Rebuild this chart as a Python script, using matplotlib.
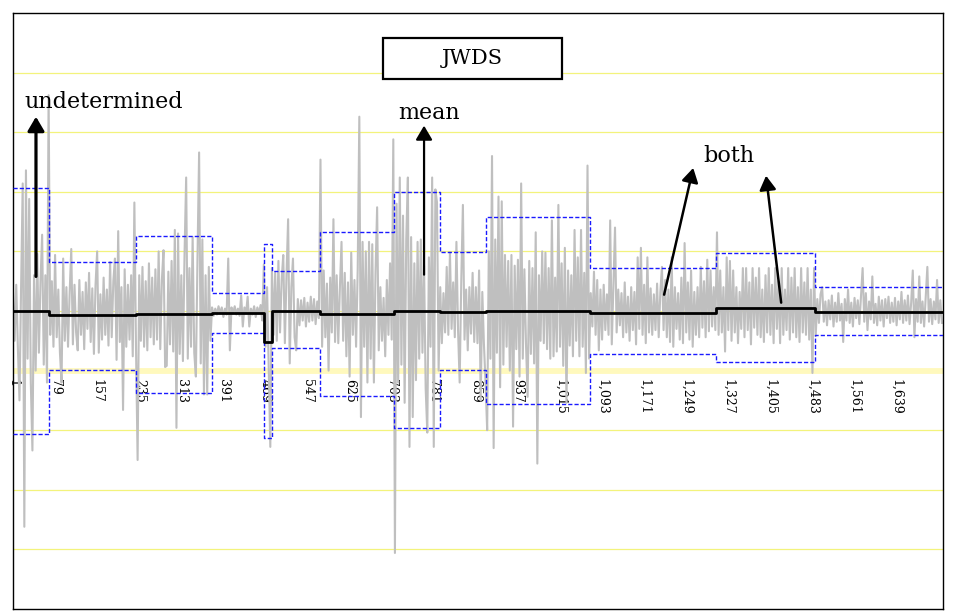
import matplotlib
matplotlib.use("Agg")
import matplotlib.pyplot as plt
from matplotlib.patches import Rectangle
import numpy as np

plt.rcParams['font.family'] = ['DejaVu Serif']

# ---- data (values in percent), one value every 3rd observation ----
obs_step = 3
returns = [
    # segment 1
    1.5, -2.5, 2.2, -3.0, -7.5, 2.0, 10.7, -18.1, 11.8, -4.0, 9.4, -6.0, -11.7, 3.0, -5.0,
    4.8, -3.5, 2.5, 6.4, -4.5, 3.0, -6.0, 18.1,
    # segment 2
    -2.0, 2.5, -3.0, 4.7, -2.2, 1.8, -3.5, -6.0, 4.4, -2.5, 2.0, -3.0, 1.5, 5.2, -2.8, 2.2,
    -1.8, -3.3, 2.6, -2.0, 1.6, -3.2, 2.4, -1.5, 3.2, -2.6, 1.9, -3.6, 2.2, 5.0, -3.5, 1.4,
    -2.4, 2.8, -2.0, 1.8, -2.9, 4.1, -2.2, 2.5, 4.4, -4.1, 6.7, -2.6, 2.0, -8.3, 3.5, -3.0,
    2.2, -2.4, 3.0, -3.8, 9.1,
    # segment 3
    -3.0, -12.5, 3.0, -2.5, 3.7, -3.0, 2.5, -3.3, 4.0, -2.2, 2.8, -2.8, 3.5, -2.4, 5.0, -3.2,
    2.6, 5.1, -4.7, -4.6, 3.3, -2.8, 4.2, -3.4, 6.8, -9.8, 6.5, -3.6, 3.0, -4.2, 4.8, 11.2,
    -4.0, 3.6, -3.0, 6.2, -3.5, -5.5, 4.5, 13.3, -4.4, 6.0, -7.0, 3.0, -7.0, 3.7, -2.5,
    # segment 4
    0.3, -0.4, 0.2, -0.3, 0.4, -0.2, 0.3, -0.5, 0.2, -0.3, 4.4, -3.3, 0.3, -0.2, 0.4, -0.3,
    0.2, -0.4, 1.3, -1.3, 0.3, -0.2, 1.2, -1.3, 0.2, -0.3, 0.4, -0.5, 0.3, -0.2, 0.5, -0.8,
    # segment 5
    3.9, -3.0, 2.0, -4.5, -11.4,
    # segment 6
    3.6, -2.0, 3.2, -2.5, 4.2, -1.8, 2.6, 4.7, -2.7, 3.0, 7.7, -4.4, 2.0, 4.4, -2.2, -3.3,
    1.0, -1.2, 0.9, -0.8, 1.1, -1.3, 0.7, -0.9, 1.2, -0.8, 1.0, -1.1, 0.8, -0.6,
    # segment 7
    12.7, -3.0, 3.4, -2.2, 2.3, -5.0, 2.8, -1.8, 7.7, -2.6, 3.0, -2.7, 2.0, 5.8, -2.5, 3.2,
    -3.8, 2.4, -5.5, 4.9, -2.0, 2.6, -3.0, 3.5, 16.3, -8.9, 5.8, -3.0, 5.0, -6.0, 5.8, -4.0,
    5.6, -6.0, 3.2, 8.7, -3.3, 2.0, -2.5, 1.1, -3.8, 2.6, -2.0, 4.0, -2.4, 14.4,
    # segment 8
    -20.3, 9.0, -6.0, 11.2, -4.5, 8.0, -7.7, 6.0, 11.2, -11.4, 6.2, -8.9, 4.0, -5.8, 5.8, -4.0,
    6.0, -3.5, 3.8, -6.5, -10.2, 4.5, -3.0, 11.2, -11.4, 10.2, 9.1, -5.0,
    # segment 9
    2.0, -2.7, 1.5, -1.8, 3.7, -2.0, 4.9, -1.5, 2.4, -2.2, 5.8, -1.6, -6.0, 2.6, 8.9, -2.4,
    1.8, -3.3, 2.0, -1.9, 3.2, -2.6, 2.0, -2.7, 3.4, -7.5, 1.6, -2.8, -6.0,
    # segment 10
    -10.0, 5.0, -4.0, 13.0, -11.5, 6.0, -3.5, 9.6, -6.4, 9.2, -4.5, 4.7, -3.0, 4.2, -5.0, 4.7,
    -9.7, 3.8, -3.2, 4.3, -5.5, 10.7, -4.0, 3.5, -2.8, -7.2, 4.2, -3.6, 3.6, -4.4, 6.6, -12.8,
    3.0, -2.5, 5.0, -2.7, 4.9, -3.2, 3.6, -4.0, 7.6, -3.8, 2.8, -3.4, 8.9, -3.0, 4.0, -4.6,
    5.3, -7.7, 3.4, -2.9, 3.0, -3.8, 6.8, -2.5, 4.5, -3.8, 6.8, -3.0, 3.2, -5.2, 12.2, -4.0,
    # segment 11
    1.5, -1.3, 3.3, -2.0, 2.6, -3.3, 1.8, -2.4, 2.2, -1.6, 1.4, -2.0, 7.6, -2.8, 2.0, 7.0,
    -1.8, 1.8, -1.2, 1.5, -2.2, 2.4, -1.8, 1.2, -2.5, 2.0, -1.6, 1.6, -2.8, 4.5, -1.5, 5.3,
    -2.0, 2.2, -2.7, 4.5, -1.8, 1.9, -2.0, 1.4, -1.6, 2.3, -2.2, 1.6, 3.7, -1.6, 2.6, -2.2,
    1.8, -2.6, 4.5, -3.0, 2.0, -1.5, 1.5, -2.4, 2.8, -2.7, 5.7, -1.8, 2.4, -2.4, 3.4, -3.0,
    1.6, -2.0, 2.0, -2.2, 3.7, -1.4, 2.5, -2.2, 4.3, -1.7, 3.4, -1.3, 2.0, -1.6,
    # segment 12
    6.6, -2.0, 3.4, -1.8, 2.0, -3.4, 4.5, -1.6, 4.2, -2.5, 3.4, -1.8, 2.0, -2.7, 1.6, -1.5,
    3.6, -2.2, 3.6, -1.6, 2.4, -2.8, 3.6, -1.4, 2.8, -2.0, 3.6, -2.2, 1.8, -2.6, 3.0, -1.8,
    3.6, -2.0, 2.2, -2.7, 3.6, -1.5, 2.5, -2.7, 3.6, -2.0, 1.8, -1.6, 3.6, -2.4, 2.8, -1.8,
    3.6, -2.2, 2.0, -2.6, 3.6, -1.8, 2.4, -2.0, 3.6, -2.4, 1.8, -5.2, 3.6,
    # segment 13
    -2.1, 1.0, -1.0, 1.4, 2.0, -0.9, 0.8, -1.2, 0.9, -0.7, 1.3, -1.3, 0.7, -0.9, 1.5, -0.8,
    0.6, -2.6, 1.0, -0.8, 1.8, -1.0, 0.7, -1.3, 1.1, -0.6, 0.9, -1.1, 1.2, 3.6, -0.9, 1.5,
    -1.6, 0.8, -0.7, 2.9, -1.0, 0.6, -1.2, 1.2, -0.8, 0.9, -1.3, 1.0, -0.6, 1.2, -1.0, 0.7,
    -0.9, 1.1, -1.2, 0.8, -0.7, 1.6, -1.0, 0.9, -0.8, 1.3, -1.1, 0.7, 3.4, -2.2, 1.0, -0.9,
    2.9, -1.0, 0.8, -1.3, 1.2, 3.7, -0.9, 1.0, -1.1, 0.8, -0.7, 2.6, -1.0, 0.9, -1.0,
]

seg_edges = [1, 68, 229, 370, 466, 481, 570, 707, 793, 878, 1071, 1304, 1488, 1725]
seg_mean = [0.0, -0.36, -0.25, -0.19, -2.63, 0.0, -0.25, 0.03, -0.06, 0.0, -0.19, 0.28, -0.06]
seg_upper = [10.3, 4.08, 6.27, 1.54, 5.6, 3.38, 6.6, 10.0, 4.97, 7.91, 3.58, 4.84, 2.0]
seg_lower = [-10.3, -4.98, -6.9, -1.87, -10.68, -3.13, -7.13, -9.84, -4.92, -7.83, -3.63, -4.25, -2.0]

tick_obs = [1, 79, 157, 235, 313, 391, 469, 547, 625, 703, 781, 859, 937, 1015,
            1093, 1171, 1249, 1327, 1405, 1483, 1561, 1639]
grid_levels = [-20, -15, -10, -5, 0, 5, 10, 15, 20]
axis_cross = -5
y_range = (-25, 25)

# ---- figure ----
fig = plt.figure(figsize=(9.72, 6.15), dpi=100)
ax = fig.add_axes([13 / 972, 6 / 615, 930 / 972, 596 / 615])
ax.set_xlim(1, 1725)
ax.set_ylim(*y_range)

for g in grid_levels:
    ax.axhline(g, color='#f3f37c', lw=0.9, zorder=0)
ax.axhline(axis_cross, color='#fff9bd', lw=4.2, zorder=0.5)

x = np.arange(len(returns)) * obs_step + 1
ax.plot(x, returns, color='#bfbfbf', lw=1.5, zorder=2)

step_y = lambda v: list(v) + [v[-1]]
ax.step(seg_edges, step_y(seg_upper), where='post', color='#1a1aff', lw=1.0,
        linestyle=(0, (3, 1.5)), zorder=3)
ax.step(seg_edges, step_y(seg_lower), where='post', color='#1a1aff', lw=1.0,
        linestyle=(0, (3, 1.5)), zorder=3)
ax.step(seg_edges, step_y(seg_mean), where='post', color='black', lw=2.0, zorder=4)

ax.set_xticks([])
ax.set_yticks([])
for s in ax.spines.values():
    s.set_color('black')
    s.set_linewidth(1.0)

# category axis crossing at -5
frac = (axis_cross - y_range[0]) / (y_range[1] - y_range[0])
sec = ax.secondary_xaxis(frac)
sec.set_xticks(tick_obs, [f"{t:,}" for t in tick_obs])
sec.tick_params(length=0, pad=6, labelsize=9, labelrotation=-90)
for s in sec.spines.values():
    s.set_visible(False)

# title box
ax.add_patch(Rectangle((0.398, 0.889), 0.1925, 0.0688, transform=ax.transAxes,
                       facecolor='white', edgecolor='black', lw=1.6, zorder=6))
ax.text(0.494, 0.9237, 'JWDS', transform=ax.transAxes, ha='center', va='center',
        fontsize=15, zorder=7)

# annotations
def arrow(tail, tip, lw):
    ax.annotate('', xy=tip, xytext=tail,
                arrowprops=dict(arrowstyle='-|>,head_length=0.85,head_width=0.5',
                                lw=lw, color='black', shrinkA=0, shrinkB=0,
                                mutation_scale=10),
                zorder=8)

ax.text(23, 17.05, 'undetermined', fontsize=16, ha='left', va='baseline', zorder=8)
arrow((43.6, 2.9), (43.6, 16.3), 2.3)

ax.text(715, 16.1, 'mean', fontsize=16, ha='left', va='baseline', zorder=8)
arrow((763, 3.05), (763, 15.55), 1.6)

ax.text(1280, 12.5, 'both', fontsize=16, ha='left', va='baseline', zorder=8)
arrow((1208, 1.37), (1262, 12.0), 1.8)
arrow((1425, 0.7), (1397, 11.35), 1.8)

fig.savefig('out.png', dpi=100)
